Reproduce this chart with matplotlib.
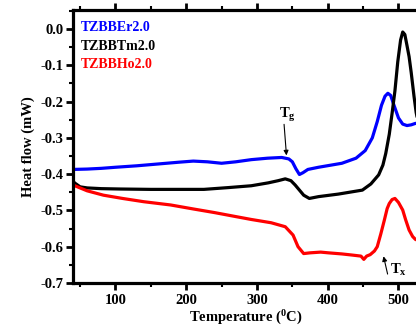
import matplotlib
matplotlib.use("Agg")
import matplotlib.pyplot as plt
from matplotlib.ticker import MultipleLocator

plt.rcParams["font.family"] = ["Liberation Serif", "DejaVu Serif"]
plt.rcParams["font.weight"] = "bold"
plt.rcParams["mathtext.fontset"] = "custom"
plt.rcParams["mathtext.rm"] = "Liberation Serif:bold"
plt.rcParams["mathtext.bf"] = "Liberation Serif:bold"
plt.rcParams["mathtext.it"] = "Liberation Serif:bold"

# DSC traces: temperature (deg C) and heat flow (mW)
temp_er = [40, 60, 80, 100, 130, 160, 190, 210, 230, 250, 270, 292, 315, 335, 345,
           350, 355, 360, 365, 372, 387, 405, 420, 440, 453, 463, 470, 476, 481,
           485, 489, 494, 500, 506, 512, 518, 524, 528]
flow_er = [-0.387, -0.386, -0.384, -0.381, -0.377, -0.372, -0.367, -0.364, -0.366,
           -0.370, -0.366, -0.360, -0.356, -0.354, -0.358, -0.366, -0.385, -0.401,
           -0.396, -0.387, -0.381, -0.375, -0.370, -0.356, -0.335, -0.300, -0.255,
           -0.210, -0.185, -0.177, -0.183, -0.212, -0.245, -0.262, -0.266, -0.264,
           -0.260, -0.260]

temp_tm = [40, 42, 45, 50, 60, 80, 107, 150, 200, 225, 260, 292, 316, 330, 340, 348,
           354, 360, 366, 374, 387, 415, 449, 461, 472, 478, 482, 487, 491, 495, 499,
           503, 506, 509, 512, 515, 518, 522, 525, 528]
flow_tm = [-0.418, -0.424, -0.428, -0.435, -0.438, -0.440, -0.441, -0.442, -0.442,
           -0.442, -0.437, -0.432, -0.424, -0.418, -0.413, -0.418, -0.430, -0.444,
           -0.458, -0.467, -0.462, -0.455, -0.444, -0.427, -0.402, -0.375, -0.343,
           -0.290, -0.232, -0.170, -0.090, -0.030, -0.008, -0.015, -0.045, -0.076,
           -0.120, -0.186, -0.230, -0.260]

temp_ho = [40, 60, 83, 110, 140, 178, 210, 240, 270, 292, 320, 340, 351, 358, 366,
           375, 390, 401, 420, 434, 447, 451, 455, 460, 466, 470, 475, 480, 484, 487,
           491, 495, 500, 506, 510, 515, 520, 524, 528]
flow_ho = [-0.430, -0.446, -0.458, -0.467, -0.476, -0.485, -0.496, -0.506, -0.517,
           -0.525, -0.534, -0.545, -0.568, -0.600, -0.619, -0.617, -0.615, -0.617,
           -0.620, -0.623, -0.626, -0.635, -0.626, -0.622, -0.612, -0.600, -0.565,
           -0.527, -0.495, -0.481, -0.470, -0.467, -0.478, -0.499, -0.525, -0.554,
           -0.572, -0.580, -0.583]

series_names = ["TZBBEr2.0", "TZBBTm2.0", "TZBBHo2.0"]
series_colors = ["#0000ff", "#000000", "#ff0000"]

fig = plt.figure(figsize=(4.16, 3.29), dpi=100)
ax = fig.add_axes([0.1755, 0.14, 0.83, 0.83])

for t, f, c in zip([temp_er, temp_tm, temp_ho], [flow_er, flow_tm, flow_ho], series_colors):
    ax.plot(t, f, color=c, lw=2.3, solid_joinstyle="round", solid_capstyle="round")

ax.set_xlim(40, 528)
ax.set_ylim(-0.7, 0.053)

ax.xaxis.set_major_locator(MultipleLocator(100))
ax.xaxis.set_minor_locator(MultipleLocator(50))
ax.yaxis.set_major_locator(MultipleLocator(0.1))
ax.yaxis.set_minor_locator(MultipleLocator(0.05))
ax.yaxis.set_major_formatter(plt.FuncFormatter(lambda v, p: "0.0" if abs(v) < 1e-9 else f"{v:.1f}"))

for s in ["left", "bottom", "top"]:
    ax.spines[s].set_linewidth(2.3)
ax.spines["right"].set_visible(False)

ax.tick_params(axis="both", which="major", direction="out", length=5, width=2,
               labelsize=10.5, pad=2)
ax.tick_params(axis="both", which="minor", direction="out", length=3, width=1.5)
ax.tick_params(axis="x", which="both", top=True, bottom=True)
ax.tick_params(axis="x", which="major", pad=3)
for lbl in ax.get_xticklabels() + ax.get_yticklabels():
    lbl.set_fontweight("bold")

ax.set_xlabel("Temperature ($^{0}$C)", fontsize=10.5, fontweight="bold", labelpad=1)
ax.set_ylabel("Heat flow (mW)", fontsize=10.5, fontweight="bold", labelpad=4)

# series labels
for i, (name, c) in enumerate(zip(series_names, series_colors)):
    ax.text(0.022, 0.96 - i * 0.069, name, color=c, transform=ax.transAxes,
            fontsize=10, fontweight="bold", va="top", ha="left")

# glass transition and crystallisation markers
ax.annotate("", xy=(342, -0.356), xytext=(338, -0.255),
            arrowprops=dict(arrowstyle="-|>", color="black", lw=0.8,
                            mutation_scale=7))
ax.text(331, -0.238, r"T$_{\mathrm{g}}$", fontsize=10.5, fontweight="bold",
        ha="left", va="center")

ax.annotate("", xy=(478, -0.619), xytext=(485.5, -0.683),
            arrowprops=dict(arrowstyle="-|>", color="black", lw=0.8,
                            mutation_scale=7))
ax.text(488, -0.665, r"T$_{\mathrm{x}}$", fontsize=10.5, fontweight="bold",
        ha="left", va="center")

fig.savefig("out.png", dpi=100)
